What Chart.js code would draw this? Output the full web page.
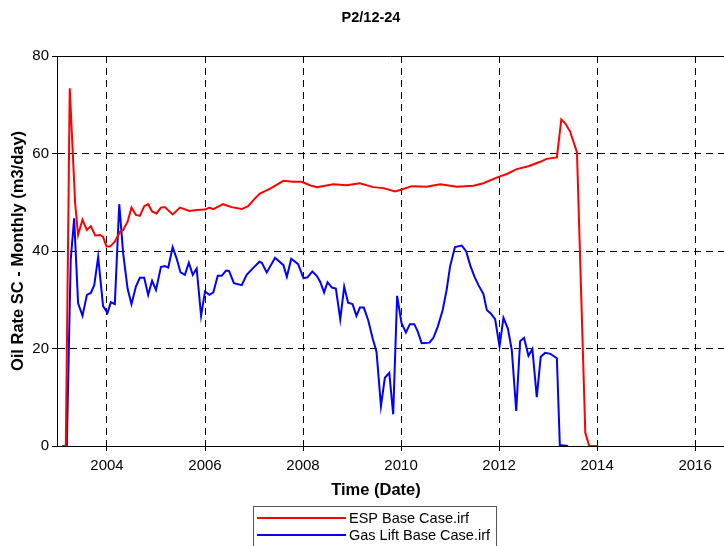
<!DOCTYPE html>
<html>
<head>
<meta charset="utf-8">
<title>P2/12-24</title>
<script src="https://cdn.jsdelivr.net/npm/chart.js@4.4.1/dist/chart.umd.min.js"></script>
<style>
  html, body { margin: 0; padding: 0; background: #fff; overflow: hidden; }
  canvas { display: block; }
</style>
</head>
<body>
<canvas id="chart" width="724" height="546"></canvas>
<script>
////// Data

const chartTitle = 'P2/12-24';
const xTitle = 'Time (Date)';
const yTitle = 'Oil Rate SC - Monthly (m3/day)';
const seriesNames = ['ESP Base Case.irf', 'Gas Lift Base Case.irf'];
const xTickYears = [2004, 2006, 2008, 2010, 2012, 2014, 2016];
const yTickValues = [0, 20, 40, 60, 80];

const espYears = [
    2003.09, 2003.16, 2003.24, 2003.35, 2003.41, 2003.50, 2003.59, 2003.67, 2003.76, 2003.86,
    2003.92, 2003.99, 2004.06, 2004.16, 2004.27, 2004.33, 2004.42, 2004.50, 2004.59, 2004.67,
    2004.76, 2004.84, 2004.92, 2005.01, 2005.10, 2005.18, 2005.34, 2005.49, 2005.68, 2005.83,
    2006.00, 2006.09, 2006.17, 2006.37, 2006.54, 2006.75, 2006.88, 2007.02, 2007.12, 2007.33,
    2007.60, 2007.80, 2007.97, 2008.14, 2008.28, 2008.62, 2008.89, 2009.16, 2009.43, 2009.64,
    2009.88, 2009.98, 2010.22, 2010.52, 2010.80, 2011.14, 2011.48, 2011.68, 2011.99, 2012.16,
    2012.36, 2012.60, 2012.84, 2012.97, 2013.18, 2013.27, 2013.35, 2013.45, 2013.59, 2013.76,
    2013.84, 2014.02
];
const espRates = [
    0, 0, 73.4, 49.8, 43.3, 46.4, 44.3, 45.1, 43.2, 43.3,
    42.9, 40.9, 40.9, 41.9, 44.0, 44.3, 46.0, 48.9, 47.4, 47.2,
    49.2, 49.6, 48.1, 47.7, 48.9, 49.0, 47.5, 48.9, 48.2, 48.4,
    48.5, 48.9, 48.6, 49.6, 49.0, 48.6, 49.2, 50.8, 51.8, 52.8,
    54.4, 54.2, 54.2, 53.5, 53.1, 53.7, 53.5, 53.9, 53.1, 52.9,
    52.2, 52.5, 53.3, 53.2, 53.7, 53.2, 53.4, 53.9, 55.2, 55.8,
    56.8, 57.4, 58.3, 58.9, 59.2, 67.0, 66.2, 64.5, 60.2, 2.7,
    0, 0
];

const gasLiftYears = [
    2003.09, 2003.18, 2003.26, 2003.33, 2003.41, 2003.50, 2003.59, 2003.67, 2003.74, 2003.82,
    2003.92, 2004.01, 2004.08, 2004.16, 2004.25, 2004.33, 2004.42, 2004.50, 2004.59, 2004.67,
    2004.76, 2004.84, 2004.92, 2005.00, 2005.10, 2005.18, 2005.25, 2005.34, 2005.42, 2005.50,
    2005.59, 2005.67, 2005.75, 2005.83, 2005.92, 2006.00, 2006.09, 2006.17, 2006.26, 2006.34,
    2006.43, 2006.49, 2006.59, 2006.75, 2006.85, 2006.99, 2007.11, 2007.16, 2007.26, 2007.43,
    2007.60, 2007.67, 2007.76, 2007.90, 2008.01, 2008.09, 2008.19, 2008.28, 2008.35, 2008.43,
    2008.50, 2008.59, 2008.67, 2008.76, 2008.84, 2008.92, 2009.01, 2009.09, 2009.16, 2009.24,
    2009.33, 2009.42, 2009.50, 2009.59, 2009.67, 2009.76, 2009.84, 2009.92, 2010.01, 2010.10,
    2010.18, 2010.27, 2010.34, 2010.42, 2010.58, 2010.66, 2010.75, 2010.85, 2010.93, 2011.00,
    2011.10, 2011.24, 2011.33, 2011.41, 2011.50, 2011.58, 2011.68, 2011.75, 2011.83, 2011.92,
    2012.01, 2012.09, 2012.18, 2012.26, 2012.35, 2012.43, 2012.51, 2012.60, 2012.68, 2012.77,
    2012.85, 2012.94, 2013.05, 2013.18, 2013.24, 2013.41
];
const gasLiftRates = [
    0, 0, 38.2, 46.7, 29.3, 26.7, 31.0, 31.4, 33.0, 38.8,
    28.7, 27.3, 29.5, 29.1, 49.6, 39.5, 32.3, 29.1, 32.7, 34.5,
    34.5, 31.0, 33.9, 32.0, 36.7, 36.9, 36.6, 40.8, 38.5, 35.6,
    35.1, 37.6, 35.1, 36.4, 26.7, 31.7, 31.0, 31.5, 34.9, 34.9,
    36.0, 35.9, 33.4, 33.0, 35.1, 36.6, 37.8, 37.6, 35.6, 38.6,
    37.1, 34.7, 38.4, 37.3, 34.4, 34.6, 35.8, 34.9, 33.7, 31.5,
    33.6, 32.5, 32.3, 26.0, 32.7, 29.4, 29.1, 26.7, 28.4, 28.4,
    25.8, 22.1, 19.3, 8.2, 14.0, 15.0, 6.5, 30.8, 25.2, 23.3,
    25.0, 25.0, 23.5, 21.1, 21.2, 22.2, 24.5, 27.9, 32.0, 36.8,
    40.8, 41.1, 39.9, 37.1, 34.7, 33.0, 31.2, 27.9, 27.2, 26.0,
    20.4, 26.3, 24.1, 19.7, 7.2, 21.5, 22.2, 18.5, 19.9, 10.0,
    18.3, 19.1, 18.9, 18.0, 0.2, 0
];

////// Chart

const fontFamily = '"Liberation Sans", Arial, sans-serif';

function toPoints(xs, ys) {
    return xs.map((x, i) => ({ x: x, y: ys[i] }));
}

// title, axis titles, legend box and the solid top frame line
const paperPlugin = {
    id: 'paper',
    afterDraw(chart) {
        const ctx = chart.ctx;
        const area = chart.chartArea;
        ctx.save();

        ctx.strokeStyle = '#000';
        ctx.lineWidth = 1;
        ctx.beginPath();
        ctx.moveTo(area.left, Math.round(area.top) + 0.5);
        ctx.lineTo(area.right, Math.round(area.top) + 0.5);
        ctx.stroke();

        ctx.fillStyle = '#000';
        ctx.textAlign = 'center';
        ctx.textBaseline = 'middle';
        ctx.font = 'bold 14.5px ' + fontFamily;
        ctx.fillText(chartTitle, 371, 18);

        ctx.font = 'bold 16.5px ' + fontFamily;
        ctx.fillText(xTitle, 376, 490);

        ctx.save();
        ctx.translate(18, (area.top + area.bottom) / 2);
        ctx.rotate(-Math.PI / 2);
        ctx.font = 'bold 16.5px ' + fontFamily;
        ctx.fillText(yTitle, 0, 0);
        ctx.restore();

        // legend
        ctx.strokeStyle = '#555';
        ctx.lineWidth = 1;
        ctx.strokeRect(253.5, 506.5, 243, 50);
        ctx.font = '14.5px ' + fontFamily;
        ctx.textAlign = 'left';
        chart.data.datasets.forEach((ds, i) => {
            const y = 518 + i * 17;
            ctx.strokeStyle = ds.borderColor;
            ctx.lineWidth = 2;
            ctx.beginPath();
            ctx.moveTo(257, y);
            ctx.lineTo(346, y);
            ctx.stroke();
            ctx.fillStyle = '#000';
            ctx.fillText(ds.label, 349, y + 1);
        });

        ctx.restore();
    }
};

const ctx = document.getElementById('chart').getContext('2d');

const chart = new Chart(ctx, {
    type: 'line',
    data: {
        datasets: [{
            label: seriesNames[0],
            data: toPoints(espYears, espRates),
            borderColor: '#ff0000',
            borderWidth: 2,
            pointRadius: 0,
            tension: 0,
            fill: false
        }, {
            label: seriesNames[1],
            data: toPoints(gasLiftYears, gasLiftRates),
            borderColor: '#0000ff',
            borderWidth: 2,
            pointRadius: 0,
            tension: 0,
            fill: false
        }]
    },
    options: {
        responsive: false,
        animation: false,
        layout: {
            padding: { top: 56, left: 0, right: 0, bottom: 0 }
        },
        plugins: {
            legend: { display: false },
            title: { display: false },
            tooltip: { enabled: false }
        },
        scales: {
            x: {
                type: 'linear',
                min: 2002.98,
                max: 2016.59,
                afterFit(scale) { scale.height = 100; },
                afterBuildTicks(scale) {
                    scale.ticks = xTickYears.map(v => ({ value: v }));
                },
                grid: {
                    color: '#000',
                    lineWidth: 1,
                    tickLength: 5,
                    tickColor: '#000'
                },
                border: { display: true, color: '#000', width: 1, dash: [7, 5] },
                ticks: {
                    color: '#000',
                    padding: 6,
                    font: { family: fontFamily, size: 15 },
                    callback: v => String(v)
                }
            },
            y: {
                type: 'linear',
                min: 0,
                max: 80,
                afterFit(scale) { scale.width = 57; },
                afterBuildTicks(scale) {
                    scale.ticks = yTickValues.map(v => ({ value: v }));
                },
                grid: {
                    color: '#000',
                    lineWidth: 1,
                    tickLength: 5,
                    tickColor: '#000'
                },
                border: { display: true, color: '#000', width: 1, dash: [7, 5] },
                ticks: {
                    color: '#000',
                    padding: 3,
                    font: { family: fontFamily, size: 15 }
                }
            }
        }
    },
    plugins: [paperPlugin]
});
</script>
</body>
</html>
